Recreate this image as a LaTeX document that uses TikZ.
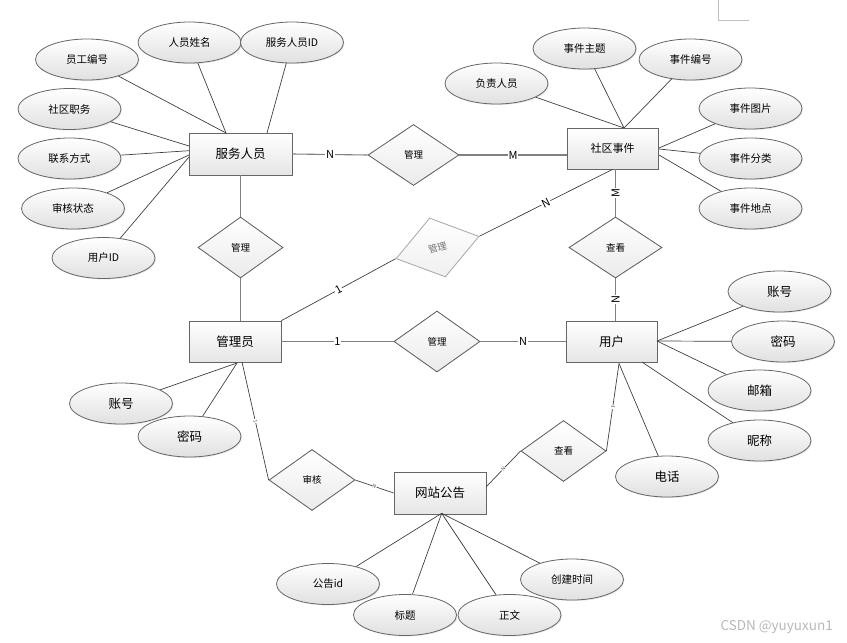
\documentclass[tikz,border=0pt]{standalone}
\usepackage{fontspec}
\setmainfont{Noto Sans CJK SC}
\usetikzlibrary{shapes.geometric,shadows}
\begin{document}
\begin{tikzpicture}[x=1pt,y=-1pt,
 ent/.style={draw=black!60, rectangle, line width=0.8pt, top color=white, bottom color=black!10, minimum width=92, minimum height=41, inner sep=0, font=\fontsize{12.5}{14}\selectfont, drop shadow={shadow xshift=1.2pt,shadow yshift=-1.2pt,opacity=0.35,fill=black!50}},
 attr/.style={draw=black!60, ellipse, line width=0.8pt, top color=white, bottom color=black!12, minimum width=103, minimum height=41, inner sep=0, font=\fontsize{10.5}{12}\selectfont, drop shadow={shadow xshift=1pt,shadow yshift=-1pt,opacity=0.2,fill=black!50}},
 bigattr/.style={attr, font=\fontsize{12.5}{14}\selectfont},
 rel/.style={draw=black!65, diamond, line width=0.8pt, top color=white, bottom color=black!8, minimum width=86, minimum height=61, inner sep=0, font=\fontsize{9.5}{11}\selectfont},
 aline/.style={draw=black!75, line width=0.7pt},
 rline/.style={draw=black!50, line width=1.1pt},
 card/.style={fill=white, inner sep=0.8pt, font=\fontsize{11}{12}\selectfont},
 tinylab/.style={inner sep=0.4pt, font=\fontsize{5}{6}\selectfont, sloped, fill=white, text=black!70},
]
\useasboundingbox (0,0) rectangle (847,643);

% corner mark
\coordinate (k1) at (718,0);
\coordinate (k2) at (718,20.7);
\coordinate (k3) at (749,20.7);
\draw[black!25, line width=0.6pt] (k1) -- (k2) -- (k3);

% entities
\node[ent, minimum width=103, minimum height=42] (fw) at (240.5,154) {服务人员};
\node[ent, minimum width=91, font=\fontsize{11}{13}\selectfont] (sq) at (612.5,148.5) {社区事件};
\node[ent] (gly) at (235,341.5) {管理员};
\node[ent, minimum width=91] (yh) at (611.5,341.5) {用户};
\node[ent, minimum height=42] (gg) at (440,493) {网站公告};

% relationships
\node[rel, minimum width=91] (r1) at (413.5,155) {管理};
\node[rel, minimum width=85] (r2) at (240.5,247.5) {管理};
\node[rel, minimum width=93] (r3) at (615.5,247.5) {查看};
\node[rel] (r4) at (437,341.5) {管理};
\node[rel, rotate=15, draw=black!35, text=black!55, bottom color=black!6] (r5) at (437.5,247.5) {管理};
\node[rel] (r6) at (312,480) {审核};
\node[rel, minimum width=85] (r7) at (563.5,451) {查看};

% relationship lines
\draw[rline] (fw.east) -- node[card]{N} (r1.west);
\draw[rline] (r1.east) -- node[card]{M} (sq.west |- r1.east);
\draw[rline] (fw.south -| r2.north) -- (r2.north);
\draw[rline] (r2.south) -- (r2.south |- gly.north);
\draw[rline] (r3.north |- sq.south) -- node[card, rotate=90]{M} (r3.north);
\draw[rline] (r3.south) -- node[card, rotate=90]{N} (r3.south |- yh.north);
\draw[rline] (gly.east) -- node[card]{1} (r4.west);
\draw[rline] (r4.east) -- node[card]{N} (yh.west);
\draw[aline] (gly.north east) -- node[card, sloped]{1} (r5.west);
\draw[aline] (r5.east) -- node[card, sloped]{N} (sq.south);

\coordinate (glyS) at (242,362);
\coordinate (ggE) at (486,487);
\coordinate (yhS) at (619,363.5);
\draw[aline] (glyS) -- node[tinylab]{1} (r6.west);
\draw[aline] (r6.east) -- node[tinylab]{N} (gg.west);
\draw[aline] (ggE) -- node[tinylab]{N} (r7.west);
\draw[aline] (r7.east) -- node[tinylab]{1} (yhS);

% 服务人员 attributes
\coordinate (fwA) at (226,133);
\coordinate (fwB) at (267,133);
\coordinate (fwL1) at (189,146);
\coordinate (fwL2) at (189,150.7);
\coordinate (fwL3) at (189,155);
\coordinate (fwL4) at (189,157);
\node[attr] (ygbh) at (87,59.5) {员工编号};
\node[attr] (ryxm) at (189.5,42.5) {人员姓名};
\node[attr] (fwid) at (292,42.5) {服务人员ID};
\node[attr] (sqzw) at (69.5,109) {社区职务};
\node[attr] (lxfs) at (69.5,158.5) {联系方式};
\node[attr] (shzt) at (73,208.5) {审核状态};
\node[attr] (yhid) at (103.5,258) {用户ID};
\draw[aline] (ygbh) -- (fwA);
\draw[aline] (ryxm) -- (fwA);
\draw[aline] (fwid) -- (fwB);
\draw[aline] (sqzw) -- (fwL1);
\draw[aline] (lxfs) -- (fwL2);
\draw[aline] (shzt) -- (fwL3);
\draw[aline] (yhid) -- (fwL4);

% 社区事件 attributes
\coordinate (sqT) at (624,128);
\coordinate (sqR1) at (659,148);
\coordinate (sqR2) at (659,149);
\coordinate (sqR3) at (659,155);
\node[attr] (fzry) at (496.5,83.5) {负责人员};
\node[attr] (sjzt) at (584.5,48.5) {事件主题};
\node[attr] (sjbh) at (690.5,59.5) {事件编号};
\node[attr] (sjtp) at (750.5,108.5) {事件图片};
\node[attr] (sjfl) at (750.5,158.5) {事件分类};
\node[attr] (sjdd) at (750.5,208.5) {事件地点};
\draw[aline] (fzry) -- (sqT);
\draw[aline] (sjzt) -- (sqT);
\draw[aline] (sjbh) -- (sqT);
\draw[aline] (sjtp) -- (sqR1);
\draw[aline] (sjfl) -- (sqR2);
\draw[aline] (sjdd) -- (sqR3);

% 管理员 attributes
\coordinate (glyA) at (237,363);
\node[bigattr] (zh1) at (121,403.5) {账号};
\node[bigattr] (mm1) at (189.5,436.5) {密码};
\draw[aline] (zh1) -- (glyA);
\draw[aline] (mm1) -- (glyA);

% 网站公告 attributes
\coordinate (ggB) at (441.7,513.3);
\node[attr] (ggid) at (328,584) {公告id};
\node[attr] (bt) at (405,615) {标题};
\node[attr] (zw) at (509.5,615) {正文};
\node[attr] (cjsj) at (572,579.5) {创建时间};
\draw[aline] (ggid) -- (ggB);
\draw[aline] (bt) -- (ggB);
\draw[aline] (zw) -- (ggB);
\draw[aline] (cjsj) -- (ggB);

% 用户 attributes
\coordinate (yhR) at (657,341);
\coordinate (yhB1) at (642,362);
\node[bigattr] (zh2) at (779.5,291.5) {账号};
\node[bigattr] (mm2) at (783,341.5) {密码};
\node[bigattr] (yx) at (759.5,390.5) {邮箱};
\node[bigattr] (nc) at (759.5,440.5) {昵称};
\node[bigattr] (dh) at (667,476.5) {电话};
\draw[aline] (zh2) -- (yhR);
\draw[aline] (mm2) -- (yhR);
\draw[aline] (yx) -- (yhR);
\draw[aline] (nc) -- (yhB1);
\draw[aline] (dh) -- (yhS);

% watermark
\node[anchor=east, text=black!28, font=\fontsize{13.5}{15}\selectfont, inner sep=0] (wm) at (833,627) {CSDN @yuyuxun1};
\end{tikzpicture}
\end{document}
